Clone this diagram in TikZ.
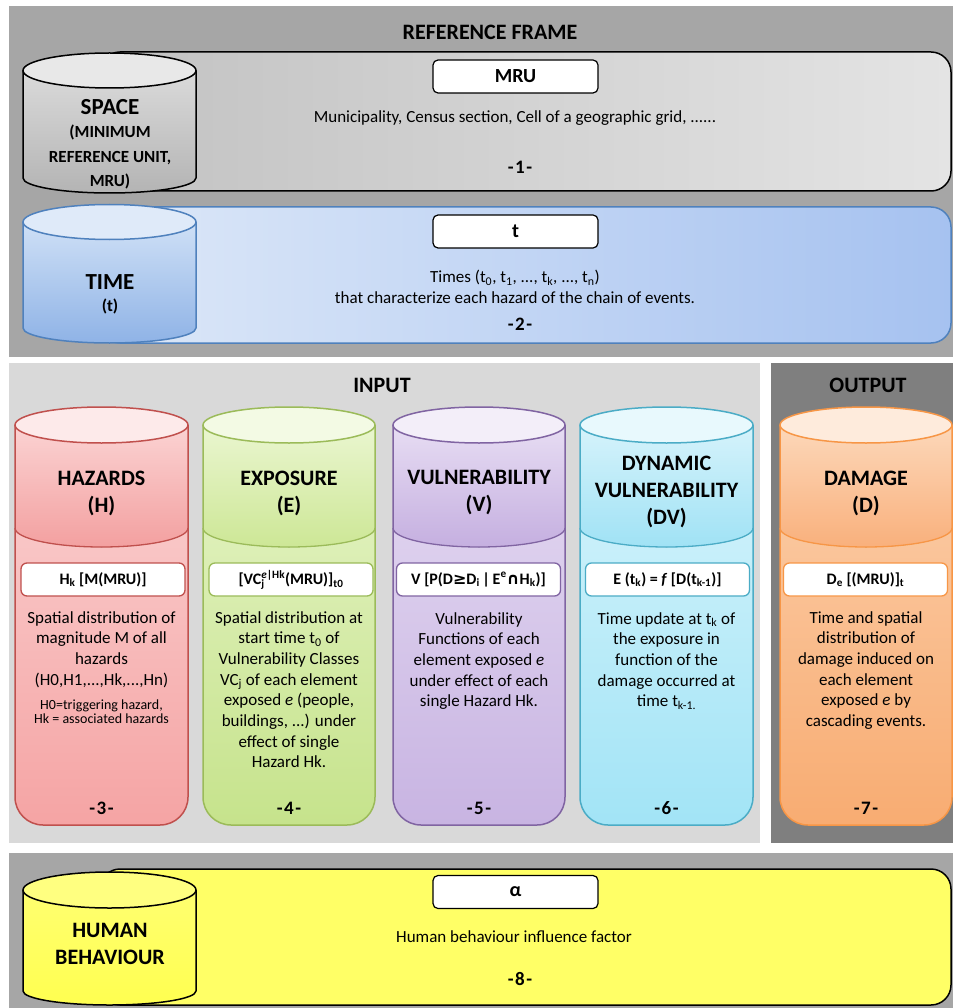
\documentclass[tikz,border=0pt]{standalone}
\usepackage{fontspec}
\setmainfont{Carlito}
\newfontfamily\symf{DejaVu Sans}
\definecolor{pnlA}{HTML}{A6A6A6}
\definecolor{pnlIn}{HTML}{D9D9D9}
\definecolor{pnlOut}{HTML}{7F7F7F}
% space
\definecolor{spt}{HTML}{DADADA}\definecolor{spb}{HTML}{B4B4B4}\definecolor{spe}{HTML}{E8E8E8}
\definecolor{spL}{HTML}{C2C2C2}\definecolor{spR}{HTML}{E4E4E4}
% time
\definecolor{tmt}{HTML}{CFE0F6}\definecolor{tmb}{HTML}{8FB3E6}\definecolor{tme}{HTML}{DFEAF9}
\definecolor{tmL}{HTML}{DDE8F8}\definecolor{tmR}{HTML}{A6C2F0}\definecolor{tmd}{HTML}{4F81BD}
% human
\definecolor{hut}{HTML}{FFFF70}\definecolor{hub}{HTML}{FFFF50}\definecolor{hue}{HTML}{FFFF80}
\definecolor{huf}{HTML}{FFFF66}
% hazards
\definecolor{hzd}{HTML}{C0504D}\definecolor{hze}{HTML}{FDEAEA}
\definecolor{hzut}{HTML}{FBD3D3}\definecolor{hzub}{HTML}{F3A0A0}
\definecolor{hzlt}{HTML}{FAD0D0}\definecolor{hzlb}{HTML}{F5A4A4}
% exposure
\definecolor{exd}{HTML}{9BBB59}\definecolor{exe}{HTML}{F3FAE4}
\definecolor{exut}{HTML}{EAF6D0}\definecolor{exub}{HTML}{CDE796}
\definecolor{exlt}{HTML}{E4F3C4}\definecolor{exlb}{HTML}{C6E38C}
% vulnerability
\definecolor{vud}{HTML}{8064A2}\definecolor{vue}{HTML}{F3EEF9}
\definecolor{vuut}{HTML}{E7DDF3}\definecolor{vuub}{HTML}{C5AFE0}
\definecolor{vult}{HTML}{E3D8F1}\definecolor{vulb}{HTML}{C8B4E2}
% dynamic
\definecolor{dvd}{HTML}{4BACC6}\definecolor{dve}{HTML}{E8F9FD}
\definecolor{dvut}{HTML}{D6F3FB}\definecolor{dvub}{HTML}{A0E2F5}
\definecolor{dvlt}{HTML}{D4F3FB}\definecolor{dvlb}{HTML}{A2E4F6}
% damage
\definecolor{dmd}{HTML}{F79646}\definecolor{dme}{HTML}{FEEBDC}
\definecolor{dmut}{HTML}{FCD8BA}\definecolor{dmub}{HTML}{F9B07C}
\definecolor{dmlt}{HTML}{FBCDA8}\definecolor{dmlb}{HTML}{F8AC72}

\newcommand\pcol[3]{%
  \pgfmathsetmacro\pcx{(#1+#2)/2}%
  \pgfmathsetmacro\prx{(#2-#1)/2}%
  \fill[top color=#3lt, bottom color=#3lb, rounded corners=28pt] (#1,450) rectangle (#2,825);
  \fill[top color=#3ut, bottom color=#3ub] (#1,425) -- (#1,528) arc[start angle=180, end angle=0, x radius=\prx, y radius=19] -- (#2,425) -- cycle;
  \draw[#3d, line width=1.3pt] (#1,528) arc[start angle=180, end angle=0, x radius=\prx, y radius=19];
  \draw[#3d, line width=1.5pt, rounded corners=28pt] (#1,425) -- (#1,825) -- (#2,825) -- (#2,425);
  \filldraw[fill=#3e, draw=#3d, line width=1.5pt] (\pcx,425) ellipse[x radius=\prx, y radius=18];
}
\newcommand\scyl[6]{%
  \fill[top color=#5t, bottom color=#5b] (23,#1) -- (23,#2) arc[start angle=180, end angle=0, x radius=86.5, y radius=#4] -- (196,#1) -- cycle;
  \draw[#6, line width=1.5pt] (23,#1) -- (23,#2) arc[start angle=180, end angle=0, x radius=86.5, y radius=#4] -- (196,#1);
  \filldraw[fill=#5e, draw=#6, line width=1.5pt] (109.5,#1) ellipse[x radius=86.5, y radius=#3];
}
\newcommand\dnum[1]{-\kern1.5pt#1\kern1.5pt-}

\tikzset{
  hd/.style={font=\bfseries\fontsize{22}{27}\selectfont, align=center, inner sep=0pt},
  cyl/.style={font=\bfseries\fontsize{23}{26}\selectfont, align=center, inner sep=0pt},
  cylsub/.style={font=\bfseries\fontsize{17}{24.5}\selectfont, align=center, inner sep=0pt},
  desc/.style={font=\fontsize{17}{20.7}\selectfont, align=center, inner sep=0pt, anchor=north},
  note/.style={font=\fontsize{14}{14}\selectfont, align=center, inner sep=0pt},
  wide/.style={font=\fontsize{17}{20.5}\selectfont, align=center, inner sep=0pt},
  num/.style={font=\bfseries\fontsize{19}{20}\selectfont, inner sep=0pt},
  keybox/.style={draw=black, fill=white, rounded corners=5pt, line width=1.2pt, minimum width=165pt, minimum height=33pt, inner sep=0pt, font=\bfseries\fontsize{20}{22}\selectfont},
  fbox/.style={fill=white, rounded corners=6pt, line width=1.3pt, minimum width=164pt, minimum height=33pt, inner sep=0pt, font=\bfseries\fontsize{16}{18}\selectfont},
}

\begin{document}
\begin{tikzpicture}[x=1pt,y=-1pt]
\useasboundingbox (0,0) rectangle (953,1008);
\fill[white] (0,0) rectangle (953,1008);

% ---------- panels ----------
\fill[pnlA] (9,6) rectangle (953,357);
\fill[pnlIn] (9,363) rectangle (760,843);
\fill[pnlOut] (771,363) rectangle (953,843);
\fill[pnlA] (9,853) rectangle (953,1008);

\node[hd] (reftitle) at (490,32) {REFERENCE FRAME};
\node[hd] (intitle) at (382,385) {INPUT};
\node[hd] (outtitle) at (868,385) {OUTPUT};

% ---------- SPACE ----------
\draw[left color=spL, right color=spR, draw=black, line width=1.5pt, rounded corners=20pt] (100,52) rectangle (951,191);
\scyl{70.5}{178}{17.5}{15}{sp}{black}
\node[cyl] (spacet) at (110,107) {SPACE};
\node[cylsub] (spaces) at (110,157) {(MINIMUM\\REFERENCE UNIT,\\MRU)};
\node[keybox] (mru) at (515.5,76.5) {MRU};
\node[wide] (mrud) at (515,118) {Municipality, Census section, Cell of a geographic grid, ......};
\node[num] (n1) at (520,167) {\dnum{1}};

% ---------- TIME ----------
\draw[left color=tmL, right color=tmR, draw=tmd, line width=1.5pt, rounded corners=20pt] (100,207) rectangle (951,343);
\scyl{222}{328}{17.5}{15}{tm}{tmd}
\node[cyl] (timet) at (110,282) {TIME};
\node[cylsub] (times) at (110,306) {(t)};
\node[keybox] (tbox) at (515.5,231.5) {t};
\node[wide] (timed) at (515,287) {Times (t\textsubscript{0}, t\textsubscript{1}, ..., t\textsubscript{k}, ..., t\textsubscript{n})\\that characterize each hazard of the chain of events.};
\node[num] (n2) at (520,324) {\dnum{2}};

% ---------- columns ----------
\pcol{15}{188}{hz}
\pcol{203}{375}{ex}
\pcol{393}{565}{vu}
\pcol{580}{753}{dv}
\pcol{780}{952}{dm}

\node[hd] (hzt) at (101.5,493) {HAZARDS\\(H)};
\node[hd] (ext) at (289,493) {EXPOSURE\\(E)};
\node[hd] (vut) at (479,493) {VULNERABILITY\\(V)};
\node[hd] (dvt) at (666.5,492) {DYNAMIC\\VULNERABILITY\\(DV)};
\node[hd] (dmt) at (866,493) {DAMAGE\\(D)};

\node[fbox, draw=hzd] (hzf) at (103,579.5) {H\textsubscript{k} [M(MRU)]};
\node[fbox, draw=exd] (exf) at (291,579.5) {[VC\rlap{\textsubscript{j}}\textsuperscript{\textit{e}|Hk}(MRU)]\textsubscript{t0}};
\node[fbox, draw=vud] (vuf) at (478.5,579.5) {V [P(D{\symf\bfseries ≥}D\textsubscript{i}\,|\,E\textsuperscript{e}{\symf\bfseries ∩}H\textsubscript{k})]};
\node[fbox, draw=dvd] (dvf) at (667.5,579.5) {E (t\textsubscript{k}) = \textit{f} [D(t\textsubscript{k-1})]};
\node[fbox, draw=dmd] (dmf) at (865.5,579.5) {D\textsubscript{e} [(MRU)]\textsubscript{t}};

\node[desc] (hzd1) at (101.5,611) {Spatial distribution of\\magnitude M of all\\hazards\\(H0,H1,...,Hk,...,Hn)};
\node[note] (hzd2) at (101.5,712) {H0=triggering hazard,\\Hk = associated hazards};
\node[desc] (exd1) at (289,611) {Spatial distribution at\\start time t\textsubscript{0} of\\Vulnerability Classes\\VC\textsubscript{j} of each element\\exposed \textit{e} (people,\\buildings, ...) under\\effect of single\\Hazard Hk.};
\node[desc] (vud1) at (479,612) {Vulnerability\\Functions of each\\element exposed \textit{e}\\under effect of each\\single Hazard Hk.};
\node[desc] (dvd1) at (666.5,612) {Time update at t\textsubscript{k} of\\the exposure in\\function of the\\damage occurred at\\time t\textsubscript{k-1.}};
\node[desc] (dmd1) at (866,611) {Time and spatial\\distribution of\\damage induced on\\each element\\exposed \textit{e} by\\cascading events.};

\node[num] (n3) at (101.5,808) {\dnum{3}};
\node[num] (n4) at (289,808) {\dnum{4}};
\node[num] (n5) at (479,808) {\dnum{5}};
\node[num] (n6) at (666.5,808) {\dnum{6}};
\node[num] (n7) at (866,808) {\dnum{7}};

% ---------- HUMAN ----------
\draw[fill=huf, draw=black, line width=1.5pt, rounded corners=20pt] (100,869) rectangle (951,1005);
\scyl{890}{991}{18}{14}{hu}{black}
\node[hd] (hut) at (110,944) {HUMAN\\BEHAVIOUR};
\node[keybox] (abox) at (515.5,892) {α};
\node[wide] (hud) at (514,937) {Human behaviour influence factor};
\node[num] (n8) at (520,979) {\dnum{8}};
\end{tikzpicture}
\end{document}
